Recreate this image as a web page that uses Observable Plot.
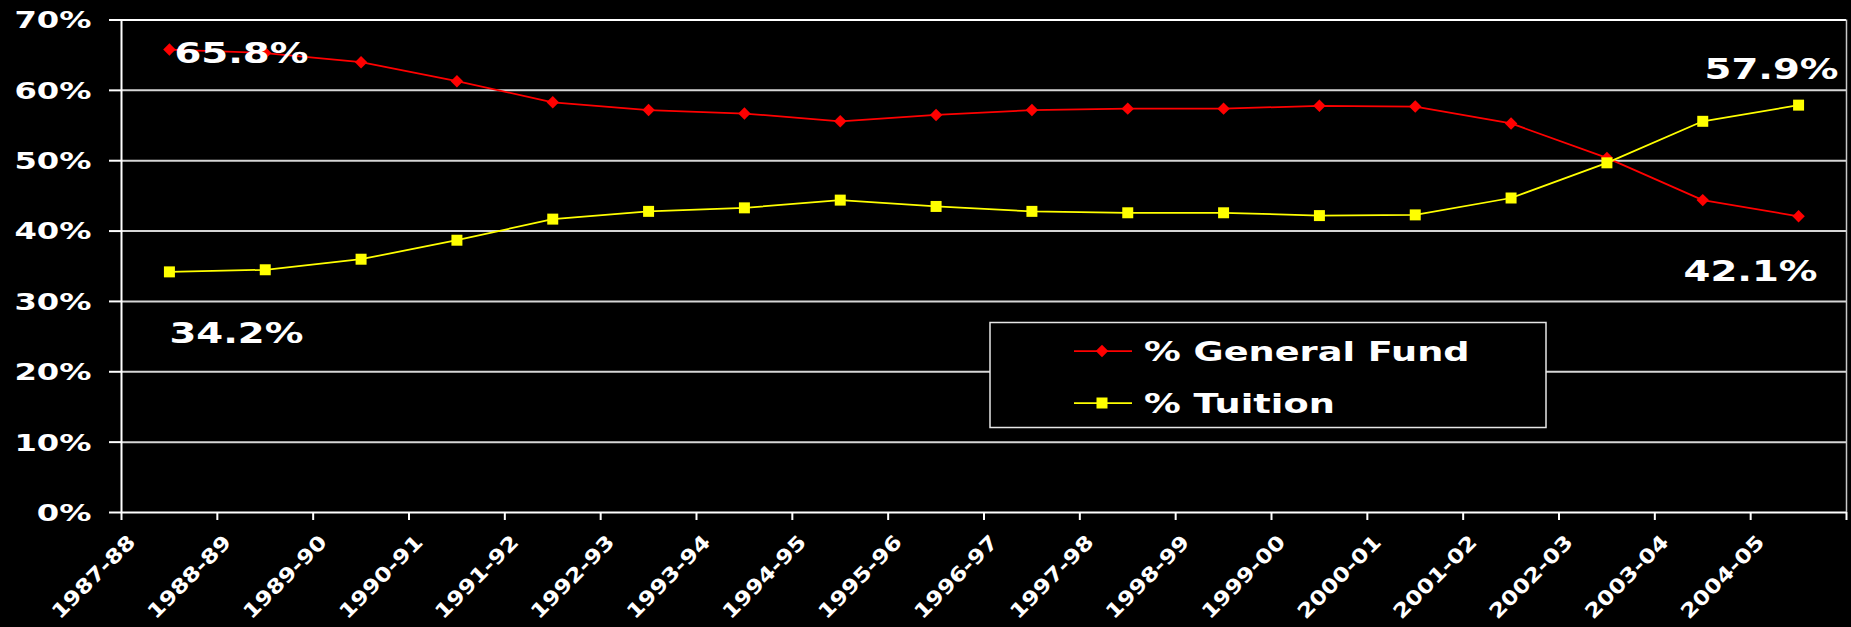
<!DOCTYPE html>
<html>
<head>
<meta charset="utf-8">
<script src="https://cdn.jsdelivr.net/npm/d3@7"></script>
<script src="https://cdn.jsdelivr.net/npm/@observablehq/plot@0.6"></script>
<style>
  html, body { margin: 0; padding: 0; background: #000; }
  #chart { position: relative; width: 1851px; height: 627px; overflow: hidden; }
  #legend { position: absolute; left: 989px; top: 321px; }
</style>
</head>
<body>
<div id="chart"></div>
<script>
// Fiscal years shown on the horizontal axis
const years = [
  "1987-88", "1988-89", "1989-90", "1990-91", "1991-92", "1992-93",
  "1993-94", "1994-95", "1995-96", "1996-97", "1997-98", "1998-99",
  "1999-00", "2000-01", "2001-02", "2002-03", "2003-04", "2004-05"
];

// Share of funding from the state General Fund (%)
const generalFund = [
  65.8, 65.3, 64.0, 61.3, 58.3, 57.2, 56.7, 55.6, 56.5,
  57.2, 57.4, 57.4, 57.8, 57.7, 55.3, 50.4, 44.4, 42.1
];

// Share of funding from tuition (%)
const tuition = [
  34.2, 34.5, 36.0, 38.7, 41.7, 42.8, 43.3, 44.4, 43.5,
  42.8, 42.6, 42.6, 42.2, 42.3, 44.7, 49.7, 55.6, 57.9
];

const yTicks = [0, 10, 20, 30, 40, 50, 60, 70];
const yTickLabels = ["0%", "10%", "20%", "30%", "40%", "50%", "60%", "70%"];

const seriesNames = ["% General Fund", "% Tuition"];
const seriesColors = ["#ff0000", "#ffff00"];

const idx = d3.range(years.length);
// category boundaries carry the ticks; each year label sits at its left boundary
const boundaries = d3.range(years.length + 1).map(i => i - 0.5);
const last = years.length - 1;
const pct = v => `${v.toFixed(1)}%`;

// one text mark per tick label
const yLabelMarks = yTicks.map((t, k) => Plot.text([k], {
  y: i => yTicks[i], text: i => yTickLabels[i], frameAnchor: "left",
  textAnchor: "end", lineAnchor: "middle", dx: -30, dy: 1, fontSize: 23, fill: "#fff"
}));
const xLabelMarks = years.map((yr, k) => Plot.text([k], {
  x: i => i - 0.5, text: i => years[i], frameAnchor: "bottom", rotate: -45,
  textAnchor: "end", lineAnchor: "bottom", dx: 15, dy: 31, fontSize: 20, fill: "#fff"
}));

const plot = Plot.plot({
  width: 1851,
  height: 627,
  marginLeft: 121,
  marginRight: 5,
  marginTop: 19.5,
  marginBottom: 115,
  style: {
    background: "#000",
    color: "#fff",
    fontFamily: "'DejaVu Sans', Verdana, sans-serif",
    fontWeight: "bold",
    overflow: "visible"
  },
  x: {type: "linear", domain: [-0.5, years.length - 0.5]},
  y: {domain: [0, 70]},
  marks: [
    // gridlines and plot border
    Plot.ruleY(yTicks.filter(t => t > 0 && t < 70), {stroke: "#d6d6d6", strokeWidth: 2}),
    Plot.ruleY([70], {stroke: "#ffffff", strokeWidth: 2}),
    Plot.ruleX([years.length - 0.5], {stroke: "#c8c8c8", strokeWidth: 1.5}),
    Plot.ruleX([-0.5], {stroke: "#ffffff", strokeWidth: 2}),
    Plot.ruleY([0], {stroke: "#ffffff", strokeWidth: 2}),

    // tick marks
    Plot.axisY({ticks: yTicks, tickSize: 12, tickFormat: () => "", stroke: "#fff", strokeWidth: 2, label: null}),
    Plot.axisX({ticks: boundaries, tickSize: 8, tickFormat: () => "", stroke: "#fff", strokeWidth: 2, label: null}),

    // tick labels
    ...yLabelMarks,
    ...xLabelMarks,

    // series
    Plot.line(idx, {x: i => i, y: i => generalFund[i], stroke: seriesColors[0], strokeWidth: 1.75}),
    Plot.line(idx, {x: i => i, y: i => tuition[i], stroke: seriesColors[1], strokeWidth: 1.75}),
    Plot.dot(idx, {x: i => i, y: i => generalFund[i], symbol: "diamond2", r: 5.6, fill: seriesColors[0]}),
    Plot.dot(idx, {x: i => i, y: i => tuition[i], symbol: "square", r: 6.2, fill: seriesColors[1]}),

    // end-point value labels
    Plot.text([0], {x: i => i, y: i => generalFund[i], text: i => pct(generalFund[i]),
      textAnchor: "start", lineAnchor: "middle", dx: 5, dy: 4, fontSize: 28, fill: "#fff"}),
    Plot.text([0], {x: i => i, y: i => tuition[i], text: i => pct(tuition[i]),
      textAnchor: "start", lineAnchor: "middle", dx: 0, dy: 62, fontSize: 28, fill: "#fff"}),
    Plot.text([last], {x: i => i, y: i => tuition[i], text: i => pct(tuition[i]),
      textAnchor: "end", lineAnchor: "middle", dx: 40, dy: -35, fontSize: 28, fill: "#fff"}),
    Plot.text([last], {x: i => i, y: i => generalFund[i], text: i => pct(generalFund[i]),
      textAnchor: "end", lineAnchor: "middle", dx: 19, dy: 56, fontSize: 28, fill: "#fff"})
  ]
});

const chart = document.getElementById("chart");
chart.appendChild(plot);

// The typeface is a wide one: stretch each label along its baseline,
// keeping its anchor point fixed. Idempotent, so it can be re-applied.
function widen(el, f) {
  let base = el.getAttribute("data-base-transform");
  if (base === null) {
    base = el.getAttribute("transform") || "";
    el.setAttribute("data-base-transform", base);
  }
  el.setAttribute("transform", `${base} scale(${f},1)`);
}
const yLabelSet = new Set(yTickLabels);
const yearSet = new Set(years);
function widenPlotLabels() {
  d3.select(plot).selectAll("text").each(function () {
    const s = this.textContent;
    if (!s) return;
    this.getBoundingClientRect();
    const f = yLabelSet.has(s) ? 1.4 : yearSet.has(s) ? 1.18 : /^\d+\.\d%$/.test(s) ? 1.38 : 0;
    if (f) widen(this, f);
    this.getBoundingClientRect();
  });
}
widenPlotLabels();
requestAnimationFrame(widenPlotLabels);
setTimeout(widenPlotLabels, 0);

// legend box
const legend = d3.select(chart).append("svg")
  .attr("id", "legend")
  .attr("width", 560)
  .attr("height", 110)
  .style("font-family", "'DejaVu Sans', Verdana, sans-serif")
  .style("font-weight", "bold");

legend.append("rect")
  .attr("x", 1).attr("y", 1.5)
  .attr("width", 556).attr("height", 105)
  .attr("fill", "#000")
  .attr("stroke", "#e6e6e6")
  .attr("stroke-width", 1.5);

const rowY = [30, 82];
const symbols = [d3.symbol(d3.symbolDiamond2, 100), d3.symbol(d3.symbolSquare, 121)];
seriesNames.forEach((name, i) => {
  const g = legend.append("g").attr("transform", `translate(0,${rowY[i]})`);
  g.append("line")
    .attr("x1", 85).attr("x2", 143)
    .attr("stroke", seriesColors[i]).attr("stroke-width", 1.75);
  g.append("path")
    .attr("transform", "translate(113,0)")
    .attr("d", symbols[i]())
    .attr("fill", seriesColors[i]);
  const text = g.append("text")
    .attr("transform", "translate(155,10)")
    .attr("fill", "#fff")
    .attr("font-size", 27)
    .text(name);
  widen(text.node(), 1.36);
});
</script>
</body>
</html>
